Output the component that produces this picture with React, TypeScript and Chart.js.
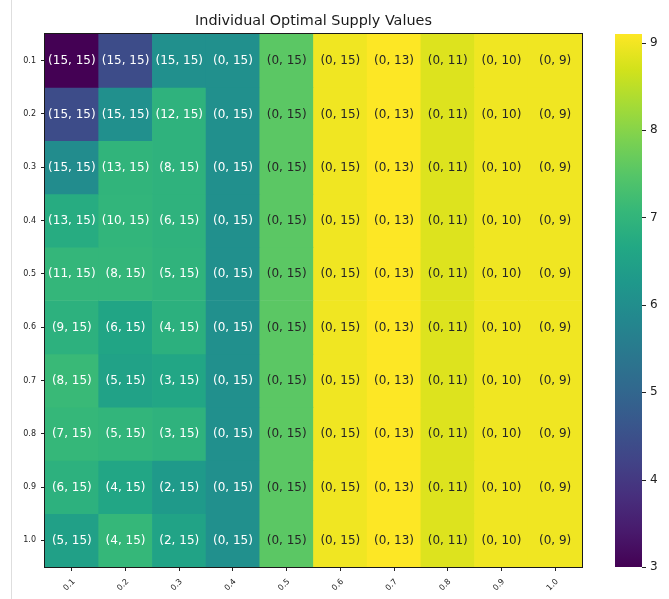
import { useEffect, useRef } from 'react';
import { Chart, registerables } from 'chart.js';

Chart.register(...registerables);

// Column (x) and row (y) parameter levels
const colLevels = ['0.1', '0.2', '0.3', '0.4', '0.5', '0.6', '0.7', '0.8', '0.9', '1.0'];
const rowLevels = ['0.1', '0.2', '0.3', '0.4', '0.5', '0.6', '0.7', '0.8', '0.9', '1.0'];

// First supply quantity in each cell, one array per row
const firstSupply = [
  [15, 15, 15, 0, 0, 0, 0, 0, 0, 0],
  [15, 15, 12, 0, 0, 0, 0, 0, 0, 0],
  [15, 13, 8, 0, 0, 0, 0, 0, 0, 0],
  [13, 10, 6, 0, 0, 0, 0, 0, 0, 0],
  [11, 8, 5, 0, 0, 0, 0, 0, 0, 0],
  [9, 6, 4, 0, 0, 0, 0, 0, 0, 0],
  [8, 5, 3, 0, 0, 0, 0, 0, 0, 0],
  [7, 5, 3, 0, 0, 0, 0, 0, 0, 0],
  [6, 4, 2, 0, 0, 0, 0, 0, 0, 0],
  [5, 4, 2, 0, 0, 0, 0, 0, 0, 0],
];

// Second supply quantity, per column
const secondSupply = [15, 15, 15, 15, 15, 15, 13, 11, 10, 9];

// Value shown by the cell colour, one array per row
const cellValues = [
  [3.0, 4.4, 6.05, 6.05, 7.55, 8.98, 9.1, 8.8, 8.98, 8.98],
  [4.4, 6.05, 6.93, 6.05, 7.55, 8.98, 9.1, 8.8, 8.98, 8.98],
  [5.95, 6.98, 6.93, 6.05, 7.55, 8.98, 9.1, 8.8, 8.98, 8.98],
  [6.77, 7.01, 6.93, 6.05, 7.55, 8.98, 9.1, 8.8, 8.98, 8.98],
  [7.04, 7.04, 6.96, 6.05, 7.55, 8.98, 9.1, 8.8, 8.98, 8.98],
  [6.9, 6.58, 6.88, 6.05, 7.55, 8.98, 9.1, 8.8, 8.98, 8.98],
  [7.12, 6.5, 6.61, 6.05, 7.55, 8.98, 9.1, 8.8, 8.98, 8.98],
  [7.07, 7.01, 6.93, 6.05, 7.55, 8.98, 9.1, 8.8, 8.98, 8.98],
  [6.9, 6.61, 6.3, 6.05, 7.55, 8.98, 9.1, 8.8, 8.98, 8.98],
  [6.46, 7.07, 6.53, 6.05, 7.55, 8.98, 9.1, 8.8, 8.98, 8.98],
];

const colorMin = 3;
const colorMax = 9.1;
const colorTicks = [3, 4, 5, 6, 7, 8, 9];

const TITLE = 'Individual Optimal Supply Values';
const FONT = "'DejaVu Sans', sans-serif";
const INK = '#222222';

// viridis palette, evenly spaced stops
const VIRIDIS = [
  '#440154', '#481a6c', '#472f7d', '#414487', '#39568c', '#31688e', '#2a788e', '#23888e',
  '#1f988b', '#22a884', '#35b779', '#54c568', '#7ad151', '#a5db36', '#d2e21b', '#fde725',
];

function hexToRgb(h: string): number[] {
  const n = parseInt(h.slice(1), 16);
  return [(n >> 16) & 255, (n >> 8) & 255, n & 255];
}
const VIRIDIS_RGB = VIRIDIS.map(hexToRgb);

function viridis(t: number): number[] {
  const c = Math.min(1, Math.max(0, t)) * (VIRIDIS_RGB.length - 1);
  const i = Math.min(VIRIDIS_RGB.length - 2, Math.floor(c));
  const f = c - i;
  const a = VIRIDIS_RGB[i];
  const b = VIRIDIS_RGB[i + 1];
  return [0, 1, 2].map((k) => Math.round(a[k] + (b[k] - a[k]) * f));
}

function rgbForValue(v: number): number[] {
  return viridis((v - colorMin) / (colorMax - colorMin));
}

function css(rgb: number[]): string {
  return `rgb(${rgb[0]}, ${rgb[1]}, ${rgb[2]})`;
}

function luminance(rgb: number[]): number {
  const lin = rgb.map((c) => {
    const s = c / 255;
    return s <= 0.03928 ? s / 12.92 : Math.pow((s + 0.055) / 1.055, 2.4);
  });
  return 0.2126 * lin[0] + 0.7152 * lin[1] + 0.0722 * lin[2];
}

const BAR_GAP = 33; // gap between plot frame and colour bar
const BAR_WIDTH = 27;

const heatmapDecor = {
  id: 'heatmapDecor',
  afterDatasetsDraw(chart: any) {
    const { ctx, chartArea } = chart;
    const { left, top, right, bottom } = chartArea;

    // cell annotations
    ctx.save();
    ctx.font = `12px ${FONT}`;
    ctx.textAlign = 'center';
    ctx.textBaseline = 'middle';
    chart.data.datasets.forEach((_: any, r: number) => {
      const meta = chart.getDatasetMeta(r);
      meta.data.forEach((el: any, c: number) => {
        const p = el.getProps(['x', 'y', 'base'], true);
        const cy = (p.y + p.base) / 2;
        const lum = luminance(rgbForValue(cellValues[r][c]));
        ctx.fillStyle = lum > 0.408 ? '#262626' : '#ffffff';
        ctx.fillText(`(${firstSupply[r][c]}, ${secondSupply[c]})`, p.x, cy + 0.5);
      });
    });
    ctx.restore();

    // plot frame
    ctx.save();
    ctx.strokeStyle = '#1a1a1a';
    ctx.lineWidth = 1;
    ctx.strokeRect(left - 0.5, top - 0.5, right - left + 1, bottom - top + 1);
    ctx.restore();
  },
  afterDraw(chart: any) {
    const { ctx, chartArea } = chart;
    const xScale = chart.scales.x;
    const cb = chart.scales.cb;

    // rotated column labels
    ctx.save();
    ctx.font = `8px ${FONT}`;
    ctx.fillStyle = INK;
    ctx.textAlign = 'center';
    ctx.textBaseline = 'middle';
    colLevels.forEach((lab, i) => {
      const x = xScale.getPixelForValue(i);
      ctx.save();
      ctx.translate(x - 2.5, chartArea.bottom + 18);
      ctx.rotate(-Math.PI / 4);
      ctx.fillText(lab, 0, 0);
      ctx.restore();
    });
    ctx.restore();

    // colour bar
    const barLeft = chartArea.right + BAR_GAP;
    const yTop = cb.getPixelForValue(colorMax);
    const yBottom = cb.getPixelForValue(colorMin);
    const grad = ctx.createLinearGradient(0, yBottom, 0, yTop);
    VIRIDIS.forEach((c, i) => grad.addColorStop(i / (VIRIDIS.length - 1), c));
    ctx.save();
    ctx.fillStyle = grad;
    ctx.fillRect(barLeft, yTop, BAR_WIDTH, yBottom - yTop);
    ctx.strokeStyle = INK;
    ctx.lineWidth = 1;
    colorTicks.forEach((v) => {
      const y = Math.round(cb.getPixelForValue(v)) + 0.5;
      ctx.beginPath();
      ctx.moveTo(barLeft + BAR_WIDTH, y);
      ctx.lineTo(barLeft + BAR_WIDTH + 4, y);
      ctx.stroke();
    });
    ctx.restore();
  },
};

export default function App() {
  const canvasRef = useRef<HTMLCanvasElement | null>(null);

  useEffect(() => {
    if (!canvasRef.current) return;
    Chart.defaults.font.family = FONT;

    const datasets = rowLevels.map((lab, r) => ({
      label: lab,
      data: colLevels.map(() => [r, r + 1]),
      backgroundColor: cellValues[r].map((v) => css(rgbForValue(v))),
      borderWidth: 0,
      barPercentage: 1,
      categoryPercentage: 1,
      grouped: false,
    }));

    const chart = new Chart(canvasRef.current, {
      type: 'bar',
      data: { labels: colLevels, datasets: datasets as any },
      options: {
        responsive: false,
        devicePixelRatio: 1,
        animation: false,
        events: [],
        layout: { padding: 0 },
        plugins: {
          legend: { display: false },
          tooltip: { enabled: false },
          title: {
            display: true,
            fullSize: false,
            text: TITLE,
            color: '#1a1a1a',
            font: { family: FONT, size: 14.4, weight: 'normal' },
            padding: { top: 13, bottom: 3.72 },
          },
        },
        scales: {
          x: {
            type: 'category',
            offset: true,
            grid: { offset: false, drawOnChartArea: false, drawTicks: true, tickLength: 4, color: INK, lineWidth: 1 },
            border: { display: false },
            ticks: { display: false },
            afterFit: (s: any) => {
              s.height = 32;
            },
          },
          y: {
            type: 'linear',
            min: 0,
            max: rowLevels.length,
            reverse: true,
            afterBuildTicks: (s: any) => {
              s.ticks = rowLevels.map((_, i) => ({ value: i + 0.5 }));
            },
            afterFit: (s: any) => {
              s.width = 45;
            },
            grid: { drawOnChartArea: false, drawTicks: true, tickLength: 4, color: INK, lineWidth: 1 },
            border: { display: false },
            ticks: {
              autoSkip: false,
              padding: 5,
              color: INK,
              font: { family: FONT, size: 8 },
              callback: (v: any) => rowLevels[Math.floor(Number(v))] ?? '',
            },
          },
          cb: {
            type: 'linear',
            position: 'right',
            min: colorMin,
            max: colorMax,
            afterBuildTicks: (s: any) => {
              s.ticks = colorTicks.map((v) => ({ value: v }));
            },
            afterFit: (s: any) => {
              s.width = 87;
            },
            // tick marks are drawn beside the colour bar; the long tick length only offsets the labels
            grid: { display: false, drawTicks: true, tickLength: BAR_GAP + BAR_WIDTH + 4 },
            border: { display: false },
            ticks: {
              padding: 4,
              color: INK,
              font: { family: FONT, size: 12 },
              callback: (v: any) => String(v),
            },
          },
        },
      } as any,
      plugins: [heatmapDecor],
    });

    return () => chart.destroy();
  }, []);

  return (
    <div style={{ position: 'absolute', left: 0, top: 0, width: 669, height: 599, background: '#ffffff' }}>
      <div style={{ position: 'absolute', left: 11, top: 0, width: 1, height: 599, background: '#dedede' }} />
      <canvas ref={canvasRef} width={669} height={599} style={{ position: 'absolute', left: 0, top: 0 }} />
    </div>
  );
}
